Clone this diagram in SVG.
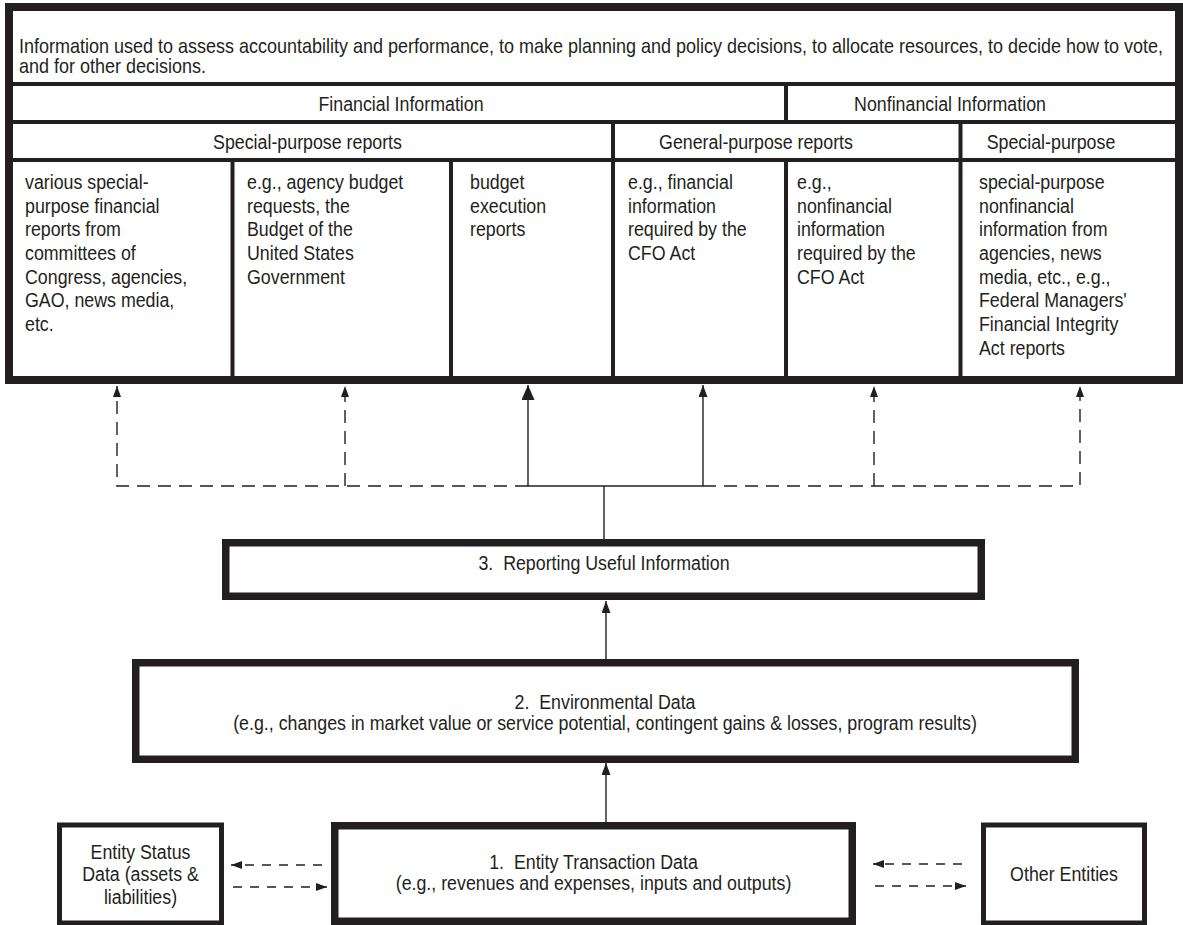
<svg xmlns="http://www.w3.org/2000/svg" width="1183" height="925" viewBox="0 0 1183 925">
<style>
.t{font-family:"Liberation Sans",Arial,Helvetica,sans-serif;font-size:20px;fill:#231f20}
.m{text-anchor:middle}
.frame{fill:#fff;stroke:#231f20;stroke-width:8}
.box{fill:#fff;stroke:#231f20;stroke-width:7.5}
.side{fill:#fff;stroke:#231f20;stroke-width:5}
.div{stroke:#231f20;stroke-width:4;fill:none}
.conn{fill:none;stroke:#231f20;stroke-width:1.4}
.dash{stroke-dasharray:13 8}
.dash2{stroke-dasharray:9 8}
</style>
<defs>
<marker id="ahBig" viewBox="0 0 15 13" refX="15" refY="6.5" markerWidth="15" markerHeight="13" markerUnits="userSpaceOnUse" orient="auto"><path d="M0,0 L15,6.5 L0,13 Z" fill="#231f20"/></marker>
<marker id="ahMed" viewBox="0 0 12 9" refX="12" refY="4.5" markerWidth="12" markerHeight="9" markerUnits="userSpaceOnUse" orient="auto"><path d="M0,0 L12,4.5 L0,9 Z" fill="#231f20"/></marker>
<marker id="ahSm" viewBox="0 0 11 8" refX="11" refY="4" markerWidth="11" markerHeight="8" markerUnits="userSpaceOnUse" orient="auto"><path d="M0,0 L11,4 L0,8 Z" fill="#231f20"/></marker>
</defs>
<rect width="1183" height="925" fill="#fff"/>

<g id="info-table">
<rect class="frame" x="9" y="7" width="1170" height="373"/>
<g id="grid">
<line class="div" x1="13" y1="84" x2="1175" y2="84"/>
<line class="div" x1="13" y1="122" x2="1175" y2="122"/>
<line class="div" x1="13" y1="160" x2="1175" y2="160"/>
<line class="div" x1="786" y1="84" x2="786" y2="122"/>
<line class="div" x1="613" y1="122" x2="613" y2="160"/>
<line class="div" x1="960.5" y1="122" x2="960.5" y2="160"/>
<line class="div" x1="232.5" y1="160" x2="232.5" y2="377"/>
<line class="div" x1="451" y1="160" x2="451" y2="377"/>
<line class="div" x1="613" y1="160" x2="613" y2="377"/>
<line class="div" x1="786" y1="160" x2="786" y2="377"/>
<line class="div" x1="960.5" y1="160" x2="960.5" y2="377"/>
</g>
<g id="info-purpose">
<text class="t" transform="translate(19,53) scale(0.9,1)">Information used to assess accountability and performance, to make planning and policy decisions, to allocate resources, to decide how to vote,<tspan x="0" dy="20.5">and for other decisions.</tspan></text>
</g>
<g id="hdr-financial"><text class="t m" transform="translate(401,111) scale(0.89,1)">Financial Information</text></g>
<g id="hdr-nonfinancial"><text class="t m" transform="translate(950,111) scale(0.89,1)">Nonfinancial Information</text></g>
<g id="hdr-special-fin"><text class="t m" transform="translate(307.5,148.5) scale(0.89,1)">Special-purpose reports</text></g>
<g id="hdr-general"><text class="t m" transform="translate(756,148.5) scale(0.89,1)">General-purpose reports</text></g>
<g id="hdr-special-nonfin"><text class="t m" transform="translate(1051,148.5) scale(0.89,1)">Special-purpose</text></g>
<g id="cell-various">
<text class="t" transform="translate(25,189) scale(0.89,1)">various special-<tspan x="0" dy="23.7">purpose financial</tspan><tspan x="0" dy="23.7">reports from</tspan><tspan x="0" dy="23.7">committees of</tspan><tspan x="0" dy="23.7">Congress, agencies,</tspan><tspan x="0" dy="23.7">GAO, news media,</tspan><tspan x="0" dy="23.7">etc.</tspan></text>
</g>
<g id="cell-budget">
<text class="t" transform="translate(247,189) scale(0.89,1)">e.g., agency budget<tspan x="0" dy="23.7">requests, the</tspan><tspan x="0" dy="23.7">Budget of the</tspan><tspan x="0" dy="23.7">United States</tspan><tspan x="0" dy="23.7">Government</tspan></text>
</g>
<g id="cell-execution">
<text class="t" transform="translate(470,189) scale(0.89,1)">budget<tspan x="0" dy="23.7">execution</tspan><tspan x="0" dy="23.7">reports</tspan></text>
</g>
<g id="cell-cfo-fin">
<text class="t" transform="translate(628,189) scale(0.89,1)">e.g., financial<tspan x="0" dy="23.7">information</tspan><tspan x="0" dy="23.7">required by the</tspan><tspan x="0" dy="23.7">CFO Act</tspan></text>
</g>
<g id="cell-cfo-nonfin">
<text class="t" transform="translate(797,189) scale(0.89,1)">e.g.,<tspan x="0" dy="23.7">nonfinancial</tspan><tspan x="0" dy="23.7">information</tspan><tspan x="0" dy="23.7">required by the</tspan><tspan x="0" dy="23.7">CFO Act</tspan></text>
</g>
<g id="cell-special-nonfin">
<text class="t" transform="translate(979,189) scale(0.89,1)">special-purpose<tspan x="0" dy="23.7">nonfinancial</tspan><tspan x="0" dy="23.7">information from</tspan><tspan x="0" dy="23.7">agencies, news</tspan><tspan x="0" dy="23.7">media, etc., e.g.,</tspan><tspan x="0" dy="23.7">Federal Managers'</tspan><tspan x="0" dy="23.7">Financial Integrity</tspan><tspan x="0" dy="23.7">Act reports</tspan></text>
</g>
</g>

<g id="node-reporting">
<rect class="box" x="225.75" y="542.75" width="755.5" height="53.5"/>
<text class="t m" transform="translate(604,570) scale(0.89,1)">3.&#160; Reporting Useful Information</text>
</g>

<g id="node-environmental">
<rect class="box" x="135.75" y="662.75" width="939.5" height="96.5"/>
<text class="t m" transform="translate(605,709) scale(0.89,1)">2.&#160; Environmental Data<tspan x="0" dy="21">(e.g., changes in market value or service potential, contingent gains &amp; losses, program results)</tspan></text>
</g>

<g id="node-transaction">
<rect class="box" x="334.75" y="825.75" width="517.5" height="95.5"/>
<text class="t m" transform="translate(593.5,869) scale(0.89,1)">1.&#160; Entity Transaction Data<tspan x="0" dy="21">(e.g., revenues and expenses, inputs and outputs)</tspan></text>
</g>

<g id="node-entity-status">
<rect class="side" x="59.5" y="825" width="162" height="98"/>
<text class="t m" transform="translate(140.5,859) scale(0.89,1)">Entity Status<tspan x="0" dy="22.5">Data (assets &amp;</tspan><tspan x="0" dy="22.5">liabilities)</tspan></text>
</g>

<g id="node-other-entities">
<rect class="side" x="983.5" y="825" width="161" height="98"/>
<text class="t m" transform="translate(1064,881) scale(0.89,1)">Other Entities</text>
</g>

<g id="connectors">
<line class="conn" x1="604" y1="539" x2="604" y2="486"/>
<line class="conn" x1="528" y1="486" x2="703" y2="486"/>
<line class="conn" x1="528" y1="486" x2="528" y2="385" marker-end="url(#ahBig)"/>
<line class="conn" x1="703" y1="486" x2="703" y2="385" marker-end="url(#ahMed)"/>
<path class="conn dash" d="M528,486 H117 V386" marker-end="url(#ahSm)"/>
<path class="conn dash" d="M345,486 V386" marker-end="url(#ahSm)"/>
<path class="conn dash" d="M703,486 H1080 V386" marker-end="url(#ahSm)"/>
<path class="conn dash" d="M874,486 V386" marker-end="url(#ahSm)"/>
<line class="conn" x1="606" y1="659" x2="606" y2="601" marker-end="url(#ahMed)"/>
<line class="conn" x1="606" y1="822" x2="606" y2="763" marker-end="url(#ahMed)"/>
<path class="conn dash2" d="M322,865 H231" marker-end="url(#ahSm)"/>
<path class="conn dash2" d="M233,887 H327" marker-end="url(#ahSm)"/>
<path class="conn dash2" d="M962,864 H873" marker-end="url(#ahSm)"/>
<path class="conn dash2" d="M875,886 H966" marker-end="url(#ahSm)"/>
</g>
</svg>
